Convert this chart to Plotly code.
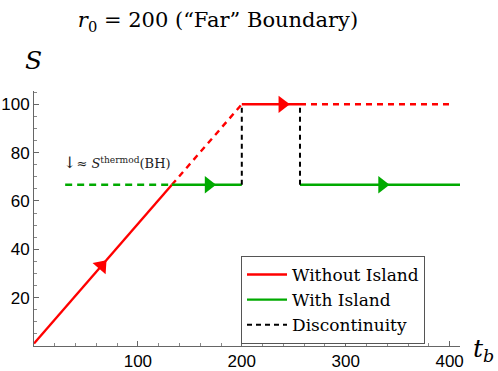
import plotly.graph_objects as go

# ---- data ----
S_page = 100.0          # page entropy plateau
S_bh = 66.7             # thermodynamic BH entropy
S_start = 1.0
t_cross = 132.7
t_page = 200.0
t_jump = 256.0

red_solid1_t = [0, t_cross]
red_solid1_S = [S_start, S_bh]
red_dash1_t = [t_cross, t_page]
red_dash1_S = [S_bh, S_page]
red_solid2_t = [t_page, t_jump]
red_solid2_S = [S_page, S_page]
red_dash2_t = [t_jump, 400]
red_dash2_S = [S_page, S_page]

green_dash_t = [30, t_cross]
green_dash_S = [S_bh, S_bh]
green_solid1_t = [t_cross, t_page]
green_solid1_S = [S_bh, S_bh]
green_solid2_t = [t_jump, 410]
green_solid2_S = [S_bh, S_bh]

disc1_t = [t_page, t_page]
disc1_S = [S_bh, S_page]
disc2_t = [t_jump, t_jump]
disc2_S = [S_bh, S_page]

red_slope_arrow_t = [65]
red_slope_arrow_S = [S_start + (S_page - S_start) / t_page * 65]
red_top_arrow_t = [239]
red_top_arrow_S = [S_page]
green_arrow_t = [168, 335]
green_arrow_S = [S_bh, S_bh]

x_ticks = [100, 200, 300, 400]
y_ticks = [20, 40, 60, 80, 100]

RED = "#ff0000"
GREEN = "rgb(0,170,0)"
BLACK = "#000000"
LW = 2.4
SERIF = "DejaVu Serif"

# plot area in pixels
L, R, T, B = 34, 460, 91, 346
PW, PH = R - L, B - T

def px(xp):
    return (xp - L) / PW

def py(yp):
    return (B - yp) / PH

fig = go.Figure()

def seg(t, s, color, dash, name=None, show=False, group=None):
    fig.add_trace(go.Scatter(
        x=t, y=s, mode="lines",
        line=dict(color=color, width=LW if color != BLACK else 2, dash=dash),
        name=name, showlegend=show, legendgroup=group, hoverinfo="skip"))

seg(red_solid1_t, red_solid1_S, RED, "solid", "Without Island", True, "r")
seg(red_dash1_t, red_dash1_S, RED, "6px,5px", group="r")
seg(red_solid2_t, red_solid2_S, RED, "solid", group="r")
seg(red_dash2_t, red_dash2_S, RED, "6px,5px", group="r")
seg(green_dash_t, green_dash_S, GREEN, "7px,5px", group="g")
seg(green_solid1_t, green_solid1_S, GREEN, "solid", "With Island", True, "g")
seg(green_solid2_t, green_solid2_S, GREEN, "solid", group="g")
seg(disc1_t, disc1_S, BLACK, "5px,4px", "Discontinuity", True, "d")
seg(disc2_t, disc2_S, BLACK, "5px,4px", group="d")

fig.add_trace(go.Scatter(
    x=red_slope_arrow_t, y=red_slope_arrow_S, mode="markers", showlegend=False, hoverinfo="skip",
    marker=dict(symbol="triangle-up", size=15, color=RED, angle=41, line=dict(width=0))))
fig.add_trace(go.Scatter(
    x=red_top_arrow_t, y=red_top_arrow_S, mode="markers", showlegend=False, hoverinfo="skip",
    marker=dict(symbol="triangle-right", size=15, color=RED, line=dict(width=0))))
fig.add_trace(go.Scatter(
    x=green_arrow_t, y=green_arrow_S, mode="markers", showlegend=False, hoverinfo="skip",
    marker=dict(symbol="triangle-right", size=15, color=GREEN, line=dict(width=0))))

fig.add_annotation(x=26, y=75.8, xref="x", yref="y", xanchor="left", yanchor="middle",
                   text="<span style='font-size:16px'>↓</span>≈ <i>S</i><sup>thermod</sup>(BH)",
                   showarrow=False,
                   font=dict(family=SERIF, size=13, color="#222"))

fig.update_layout(
    width=498, height=371,
    margin=dict(l=L, r=498 - R, t=T, b=371 - B, autoexpand=False),
    paper_bgcolor="white", plot_bgcolor="white",
    title=dict(text="<i>r</i><sub>0</sub> = 200 (“Far” Boundary)",
               x=218 / 498, xanchor="center", y=1 - 20 / 371, yanchor="middle",
               font=dict(family=SERIF, size=21, color="black")),
    legend=dict(x=px(241), y=py(256), xanchor="left", yanchor="top",
                bgcolor="white", bordercolor="#555", borderwidth=1,
                font=dict(family=SERIF, size=17, color="black"),
                tracegroupgap=0, itemwidth=40),
    showlegend=True,
)

fig.update_xaxes(range=[0, 410], showline=True, linecolor="#666", linewidth=1,
                 automargin=False,
                 tickmode="array", tickvals=x_ticks, ticks="inside", ticklen=5,
                 tickcolor="#666", showgrid=False, zeroline=False,
                 minor=dict(ticks="inside", dtick=20, ticklen=3, tickcolor="#888"),
                 tickfont=dict(family="Liberation Sans", size=17, color="black"))
fig.update_yaxes(range=[0, 105.5], showline=True, linecolor="#666", linewidth=1,
                 automargin=False,
                 tickmode="array", tickvals=y_ticks, ticks="inside", ticklen=5,
                 tickcolor="#666", showgrid=False, zeroline=False,
                 minor=dict(ticks="inside", dtick=5, ticklen=3, tickcolor="#888"),
                 tickfont=dict(family="Liberation Sans", size=17, color="black"))

fig.add_annotation(x=px(33), y=py(60), xref="paper", yref="paper",
                   text="<i>S</i>", showarrow=False, xanchor="center", yanchor="middle",
                   font=dict(family=SERIF, size=25, color="black"))
fig.add_annotation(x=px(483), y=py(350), xref="paper", yref="paper",
                   text="<i>t</i><sub><i>b</i></sub>", showarrow=False,
                   xanchor="center", yanchor="middle",
                   font=dict(family=SERIF, size=25, color="black"))

fig.write_html("out.html", config={"displayModeBar": False},
               post_script="document.body.style.margin='0';")
